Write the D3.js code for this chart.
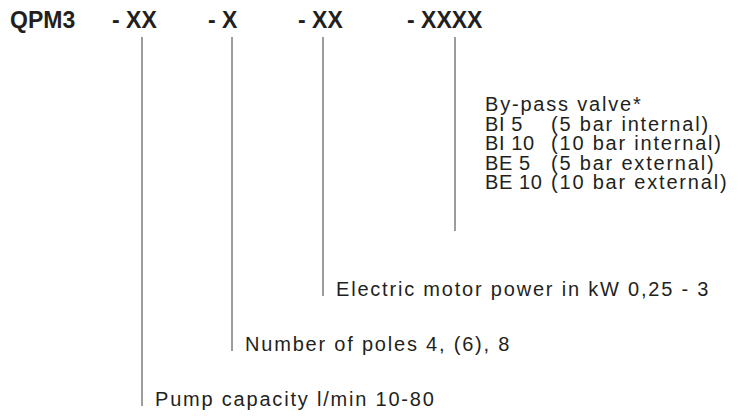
<!DOCTYPE html>
<html>
<head>
<meta charset="utf-8">
<script src="https://cdn.jsdelivr.net/npm/d3@7"></script>
<style>
  body { margin: 0; background: #fff; }
  svg text { font-family: "Liberation Sans", Arial, Helvetica, sans-serif; fill: #231f20; }
  svg text.body { font-size: 20px; letter-spacing: 1.8px; }
  svg text.code { letter-spacing: 0.6px; }
</style>
</head>
<body>
<div id="chart"></div>
<script>
// type code parts and what each one means
var codeParts = ["QPM3", "- XX", "- X", "- XX", "- XXXX"];
var partLabels = [
  "Pump capacity l/min 10-80",
  "Number of poles 4, (6), 8",
  "Electric motor power in kW 0,25 - 3"
];
var valveTitle = "By-pass valve*";
var valveCodes = ["BI 5", "BI 10", "BE 5", "BE 10"];
var valveNotes = ["(5 bar internal)", "(10 bar internal)", "(5 bar external)", "(10 bar external)"];

var width = 756, height = 416;

var svg = d3.select("#chart").append("svg")
    .attr("width", width)
    .attr("height", height);

// where the header pieces sit, and where each leader line drops
var partX = [10, 112, 208, 298, 407];
var lineX = [142, 232, 323, 455];
var lineTop = 37;

// levels: 0 = deepest (pump capacity), 2 = motor power
var levelY = d3.scaleLinear().domain([0, 2]).range([406, 296]);

svg.append("g").selectAll("text")
  .data(codeParts)
  .enter().append("text")
    .attr("x", function(d, i) { return partX[i]; })
    .attr("y", 28)
    .style("font-weight", "bold")
    .style("font-size", "23px")
    .text(function(d) { return d; });

// the three simple labels
partLabels.forEach(function(lbl, i) {
  var y = levelY(i);
  svg.append("line")
    .attr("x1", lineX[i]).attr("x2", lineX[i])
    .attr("y1", lineTop).attr("y2", y)
    .attr("stroke", "#3a3a3a").attr("stroke-width", 1);
  svg.append("text")
    .attr("class", "body")
    .attr("x", lineX[i] + 13)
    .attr("y", y)
    .text(lbl);
});

// by-pass valve block
var rowY = d3.scaleLinear().domain([0, 4]).range([111, 189]);
svg.append("line")
  .attr("x1", lineX[3]).attr("x2", lineX[3])
  .attr("y1", lineTop).attr("y2", 231)
  .attr("stroke", "#3a3a3a").attr("stroke-width", 1);

svg.append("text")
  .attr("class", "body")
  .attr("x", 485).attr("y", rowY(0))
  .text(valveTitle);

var rows = svg.append("g").selectAll("g")
  .data(valveCodes)
  .enter().append("g");
rows.append("text")
  .attr("class", "body code")
  .attr("x", 485)
  .attr("y", function(d, i) { return rowY(i + 1); })
  .text(function(d) { return d; });
rows.append("text")
  .attr("class", "body")
  .attr("x", 551)
  .attr("y", function(d, i) { return rowY(i + 1); })
  .text(function(d, i) { return valveNotes[i]; });
</script>
</body>
</html>
